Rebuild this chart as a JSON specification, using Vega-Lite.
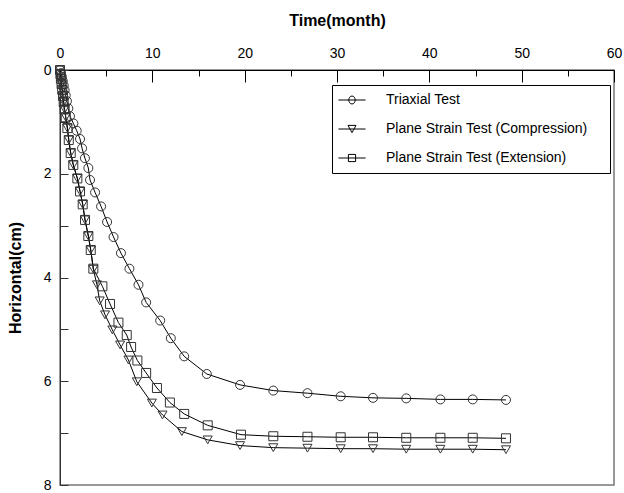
{
  "$schema": "https://vega.github.io/schema/vega-lite/v6.json",
  "width": 554,
  "height": 415,
  "autosize": {"type": "none"},
  "padding": {"left": 60, "top": 70, "right": 10, "bottom": 8},
  "background": "white",
  "config": {
    "font": "Liberation Sans",
    "view": {"stroke": "#777777", "strokeWidth": 1.5}
  },
  "datasets": {
    "series": [
      {"test": "Triaxial Test", "t": 0, "h": 0},
      {"test": "Triaxial Test", "t": 0.1, "h": 0.06},
      {"test": "Triaxial Test", "t": 0.2, "h": 0.13},
      {"test": "Triaxial Test", "t": 0.3, "h": 0.21},
      {"test": "Triaxial Test", "t": 0.4, "h": 0.3},
      {"test": "Triaxial Test", "t": 0.5, "h": 0.39},
      {"test": "Triaxial Test", "t": 0.62, "h": 0.49},
      {"test": "Triaxial Test", "t": 0.75, "h": 0.6},
      {"test": "Triaxial Test", "t": 0.9, "h": 0.74},
      {"test": "Triaxial Test", "t": 1.08, "h": 0.89},
      {"test": "Triaxial Test", "t": 1.45, "h": 1.03},
      {"test": "Triaxial Test", "t": 1.81, "h": 1.17},
      {"test": "Triaxial Test", "t": 2.17, "h": 1.33},
      {"test": "Triaxial Test", "t": 2.39, "h": 1.51},
      {"test": "Triaxial Test", "t": 2.7, "h": 1.7},
      {"test": "Triaxial Test", "t": 3.07, "h": 1.89},
      {"test": "Triaxial Test", "t": 3.25, "h": 2.12},
      {"test": "Triaxial Test", "t": 3.8, "h": 2.36},
      {"test": "Triaxial Test", "t": 4.45, "h": 2.63},
      {"test": "Triaxial Test", "t": 5.1, "h": 2.93},
      {"test": "Triaxial Test", "t": 5.8, "h": 3.22},
      {"test": "Triaxial Test", "t": 6.6, "h": 3.53},
      {"test": "Triaxial Test", "t": 7.52, "h": 3.83},
      {"test": "Triaxial Test", "t": 8.5, "h": 4.14},
      {"test": "Triaxial Test", "t": 9.33, "h": 4.48},
      {"test": "Triaxial Test", "t": 10.85, "h": 4.83},
      {"test": "Triaxial Test", "t": 12.0, "h": 5.17},
      {"test": "Triaxial Test", "t": 13.45, "h": 5.52},
      {"test": "Triaxial Test", "t": 15.9, "h": 5.86},
      {"test": "Triaxial Test", "t": 19.5, "h": 6.07},
      {"test": "Triaxial Test", "t": 23.1, "h": 6.18},
      {"test": "Triaxial Test", "t": 26.8, "h": 6.23},
      {"test": "Triaxial Test", "t": 30.4, "h": 6.29},
      {"test": "Triaxial Test", "t": 33.9, "h": 6.32},
      {"test": "Triaxial Test", "t": 37.5, "h": 6.33},
      {"test": "Triaxial Test", "t": 41.2, "h": 6.35},
      {"test": "Triaxial Test", "t": 44.7, "h": 6.35},
      {"test": "Triaxial Test", "t": 48.3, "h": 6.36},

      {"test": "Plane Strain Test (Compression)", "t": 0, "h": 0},
      {"test": "Plane Strain Test (Compression)", "t": 0.05, "h": 0.08},
      {"test": "Plane Strain Test (Compression)", "t": 0.1, "h": 0.17},
      {"test": "Plane Strain Test (Compression)", "t": 0.17, "h": 0.27},
      {"test": "Plane Strain Test (Compression)", "t": 0.24, "h": 0.38},
      {"test": "Plane Strain Test (Compression)", "t": 0.32, "h": 0.5},
      {"test": "Plane Strain Test (Compression)", "t": 0.4, "h": 0.62},
      {"test": "Plane Strain Test (Compression)", "t": 0.5, "h": 0.76},
      {"test": "Plane Strain Test (Compression)", "t": 0.62, "h": 0.91},
      {"test": "Plane Strain Test (Compression)", "t": 0.8, "h": 1.12},
      {"test": "Plane Strain Test (Compression)", "t": 0.95, "h": 1.35},
      {"test": "Plane Strain Test (Compression)", "t": 1.16, "h": 1.6},
      {"test": "Plane Strain Test (Compression)", "t": 1.44, "h": 1.83},
      {"test": "Plane Strain Test (Compression)", "t": 1.88, "h": 2.09},
      {"test": "Plane Strain Test (Compression)", "t": 2.17, "h": 2.34},
      {"test": "Plane Strain Test (Compression)", "t": 2.46, "h": 2.59},
      {"test": "Plane Strain Test (Compression)", "t": 2.71, "h": 2.89},
      {"test": "Plane Strain Test (Compression)", "t": 3.07, "h": 3.2},
      {"test": "Plane Strain Test (Compression)", "t": 3.33, "h": 3.47},
      {"test": "Plane Strain Test (Compression)", "t": 3.61, "h": 3.84},
      {"test": "Plane Strain Test (Compression)", "t": 4.0, "h": 4.14},
      {"test": "Plane Strain Test (Compression)", "t": 4.3, "h": 4.45},
      {"test": "Plane Strain Test (Compression)", "t": 4.88, "h": 4.72},
      {"test": "Plane Strain Test (Compression)", "t": 5.67, "h": 5.01},
      {"test": "Plane Strain Test (Compression)", "t": 6.51, "h": 5.3},
      {"test": "Plane Strain Test (Compression)", "t": 7.41, "h": 5.59},
      {"test": "Plane Strain Test (Compression)", "t": 8.32, "h": 6.01},
      {"test": "Plane Strain Test (Compression)", "t": 9.95, "h": 6.42},
      {"test": "Plane Strain Test (Compression)", "t": 11.1, "h": 6.65},
      {"test": "Plane Strain Test (Compression)", "t": 13.2, "h": 6.97},
      {"test": "Plane Strain Test (Compression)", "t": 16.0, "h": 7.13},
      {"test": "Plane Strain Test (Compression)", "t": 19.5, "h": 7.24},
      {"test": "Plane Strain Test (Compression)", "t": 23.1, "h": 7.28},
      {"test": "Plane Strain Test (Compression)", "t": 26.8, "h": 7.29},
      {"test": "Plane Strain Test (Compression)", "t": 30.4, "h": 7.3},
      {"test": "Plane Strain Test (Compression)", "t": 33.9, "h": 7.3},
      {"test": "Plane Strain Test (Compression)", "t": 37.5, "h": 7.31},
      {"test": "Plane Strain Test (Compression)", "t": 41.2, "h": 7.31},
      {"test": "Plane Strain Test (Compression)", "t": 44.7, "h": 7.31},
      {"test": "Plane Strain Test (Compression)", "t": 48.3, "h": 7.32},

      {"test": "Plane Strain Test (Extension)", "t": 0, "h": 0},
      {"test": "Plane Strain Test (Extension)", "t": 0.05, "h": 0.08},
      {"test": "Plane Strain Test (Extension)", "t": 0.1, "h": 0.17},
      {"test": "Plane Strain Test (Extension)", "t": 0.17, "h": 0.27},
      {"test": "Plane Strain Test (Extension)", "t": 0.24, "h": 0.38},
      {"test": "Plane Strain Test (Extension)", "t": 0.32, "h": 0.5},
      {"test": "Plane Strain Test (Extension)", "t": 0.4, "h": 0.62},
      {"test": "Plane Strain Test (Extension)", "t": 0.5, "h": 0.76},
      {"test": "Plane Strain Test (Extension)", "t": 0.62, "h": 0.91},
      {"test": "Plane Strain Test (Extension)", "t": 0.8, "h": 1.12},
      {"test": "Plane Strain Test (Extension)", "t": 0.95, "h": 1.35},
      {"test": "Plane Strain Test (Extension)", "t": 1.16, "h": 1.6},
      {"test": "Plane Strain Test (Extension)", "t": 1.44, "h": 1.83},
      {"test": "Plane Strain Test (Extension)", "t": 1.88, "h": 2.09},
      {"test": "Plane Strain Test (Extension)", "t": 2.17, "h": 2.34},
      {"test": "Plane Strain Test (Extension)", "t": 2.46, "h": 2.59},
      {"test": "Plane Strain Test (Extension)", "t": 2.71, "h": 2.89},
      {"test": "Plane Strain Test (Extension)", "t": 3.07, "h": 3.2},
      {"test": "Plane Strain Test (Extension)", "t": 3.33, "h": 3.47},
      {"test": "Plane Strain Test (Extension)", "t": 3.61, "h": 3.83},
      {"test": "Plane Strain Test (Extension)", "t": 4.59, "h": 4.17},
      {"test": "Plane Strain Test (Extension)", "t": 5.42, "h": 4.51},
      {"test": "Plane Strain Test (Extension)", "t": 6.33, "h": 4.87},
      {"test": "Plane Strain Test (Extension)", "t": 7.23, "h": 5.11},
      {"test": "Plane Strain Test (Extension)", "t": 7.7, "h": 5.34},
      {"test": "Plane Strain Test (Extension)", "t": 8.38, "h": 5.6},
      {"test": "Plane Strain Test (Extension)", "t": 9.33, "h": 5.84},
      {"test": "Plane Strain Test (Extension)", "t": 10.5, "h": 6.13},
      {"test": "Plane Strain Test (Extension)", "t": 11.9, "h": 6.41},
      {"test": "Plane Strain Test (Extension)", "t": 13.45, "h": 6.63},
      {"test": "Plane Strain Test (Extension)", "t": 16.0, "h": 6.85},
      {"test": "Plane Strain Test (Extension)", "t": 19.6, "h": 7.03},
      {"test": "Plane Strain Test (Extension)", "t": 23.1, "h": 7.06},
      {"test": "Plane Strain Test (Extension)", "t": 26.8, "h": 7.07},
      {"test": "Plane Strain Test (Extension)", "t": 30.4, "h": 7.08},
      {"test": "Plane Strain Test (Extension)", "t": 33.9, "h": 7.08},
      {"test": "Plane Strain Test (Extension)", "t": 37.5, "h": 7.09},
      {"test": "Plane Strain Test (Extension)", "t": 41.2, "h": 7.09},
      {"test": "Plane Strain Test (Extension)", "t": 44.7, "h": 7.09},
      {"test": "Plane Strain Test (Extension)", "t": 48.3, "h": 7.1}
    ]
  },
  "data": {"name": "series"},
  "encoding": {
    "x": {
      "field": "t",
      "type": "quantitative",
      "scale": {"domain": [0, 60], "nice": false, "zero": false},
      "axis": {
        "orient": "top",
        "title": "Time(month)",
        "titleFontSize": 16,
        "titleFontWeight": "bold",
        "titleColor": "black",
        "titlePadding": 12,
        "values": [0, 5, 10, 15, 20, 25, 30, 35, 40, 45, 50, 55, 60],
        "labelExpr": "datum.value % 10 === 0 ? datum.label : ''",
        "labelFontSize": 14,
        "labelColor": "black",
        "labelPadding": 22,
        "labelFlush": false,
        "labelOverlap": false,
        "tickSize": {"condition": {"test": "datum.value % 10 === 0", "value": -12}, "value": -6},
        "tickColor": "black",
        "domainColor": "black",
        "grid": false
      }
    },
    "y": {
      "field": "h",
      "type": "quantitative",
      "scale": {"domain": [0, 8], "reverse": true, "nice": false, "zero": false},
      "axis": {
        "orient": "left",
        "title": "Horizontal(cm)",
        "titleFontSize": 16,
        "titleFontWeight": "bold",
        "titleColor": "black",
        "titlePadding": 20,
        "values": [0, 1, 2, 3, 4, 5, 6, 7, 8],
        "labelExpr": "datum.value % 2 === 0 ? datum.label : ''",
        "labelFontSize": 14,
        "labelColor": "black",
        "labelPadding": 17,
        "labelFlush": false,
        "labelOverlap": false,
        "tickSize": -8,
        "tickColor": "#333333",
        "domainColor": "#333333",
        "grid": false
      }
    }
  },
  "layer": [
    {
      "mark": {"type": "line", "color": "black", "strokeWidth": 1},
      "encoding": {
        "detail": {"field": "test", "type": "nominal"},
        "order": {"field": "t", "type": "quantitative"}
      }
    },
    {
      "mark": {"type": "point", "filled": false, "size": 81, "strokeWidth": 1, "color": "#333333", "opacity": 1},
      "encoding": {
        "shape": {
          "field": "test",
          "type": "nominal",
          "scale": {
            "domain": ["Triaxial Test", "Plane Strain Test (Compression)", "Plane Strain Test (Extension)"],
            "range": ["circle", "triangle-down", "square"]
          },
          "legend": null
        }
      }
    },
    {
      "transform": [{"filter": "datum.t < 0"}],
      "mark": {"type": "point", "filled": false, "size": 64, "strokeWidth": 1, "color": "black", "opacity": 1},
      "encoding": {
        "shape": {
          "field": "test",
          "type": "nominal",
          "scale": {
            "domain": ["Triaxial Test", "Plane Strain Test (Compression)", "Plane Strain Test (Extension)"],
            "range": [
              "M-3.4,0H3.4M-0.8,0A0.8,1 0 1,0 0.8,0A0.8,1 0 1,0 -0.8,0",
              "M-3.4,0H3.4M-1,-0.9L1,-0.9L0,0.9Z",
              "M-3.4,0H3.4M-0.9,-0.9H0.9V0.9H-0.9Z"
            ]
          },
          "legend": {
            "orient": "none",
            "legendX": 272,
            "legendY": 15,
            "title": null,
            "strokeColor": "black",
            "fillColor": "white",
            "padding": 8,
            "labelFont": "Liberation Sans",
            "labelFontSize": 14,
            "labelColor": "black",
            "labelLimit": 400,
            "labelExpr": "datum.label + '\u2003\u200b'",
            "symbolSize": 64,
            "symbolOffset": 5,
            "labelOffset": 27,
            "rowPadding": 15,
            "symbolStrokeColor": "black",
            "symbolStrokeWidth": 1,
            "symbolFillColor": "transparent"
          }
        }
      }
    }
  ],
  "resolve": {"scale": {"shape": "independent"}}
}
